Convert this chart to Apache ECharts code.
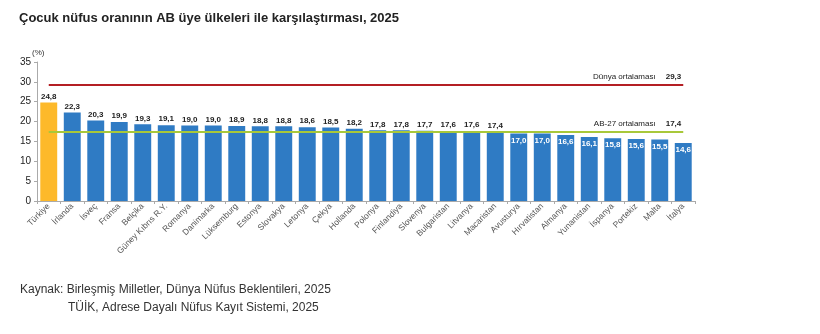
<!DOCTYPE html>
<html>
<head>
<meta charset="utf-8">
<script src="https://cdn.jsdelivr.net/npm/echarts@6/dist/echarts.min.js"></script>
<style>
html, body { margin: 0; padding: 0; background: #fff; }
#chart { width: 820px; height: 334px; }
</style>
</head>
<body>
<div id="chart"></div>
<script>
var countries = ['Türkiye', 'İrlanda', 'İsveç', 'Fransa', 'Belçika', 'Güney Kıbrıs R.Y.', 'Romanya', 'Danimarka',
    'Lüksemburg', 'Estonya', 'Slovakya', 'Letonya', 'Çekya', 'Hollanda', 'Polonya', 'Finlandiya', 'Slovenya',
    'Bulgaristan', 'Litvanya', 'Macaristan', 'Avusturya', 'Hırvatistan', 'Almanya', 'Yunanistan', 'İspanya',
    'Portekiz', 'Malta', 'İtalya'];
var childShare = [24.8, 22.3, 20.3, 19.9, 19.3, 19.1, 19.0, 19.0, 18.9, 18.8, 18.8, 18.6, 18.5, 18.2, 17.8, 17.8,
    17.7, 17.6, 17.6, 17.4, 17.0, 17.0, 16.6, 16.1, 15.8, 15.6, 15.5, 14.6];
var worldAvg = 29.3;
var euAvg = 17.4;

function fmt(v) { return v.toFixed(1).replace('.', ','); }

var myChart = echarts.init(document.getElementById('chart'));

var barData = childShare.map(function (v, i) {
    var below = v < euAvg;
    return {
        value: v,
        itemStyle: { color: i === 0 ? '#FDB92A' : '#2F7BC4' },
        label: below ? { position: 'insideTop', color: '#fff', distance: 3 } : { position: 'top', color: '#222', distance: 2 }
    };
});

function avgLine(val, name, color) {
    return [
        { coord: [countries[0], val], lineStyle: { color: color, width: 2, type: 'solid' },
          label: { show: true, position: 'insideEndTop', distance: 2,
                   formatter: '{n|' + name + '}   {v|' + fmt(val) + '}',
                   rich: { n: { fontSize: 8, color: '#222', fontFamily: 'Liberation Sans' },
                           v: { fontSize: 8, color: '#222', fontWeight: 'bold', fontFamily: 'Liberation Sans' } } } },
        { coord: [countries[countries.length - 1], val] }
    ];
}

option = {
    backgroundColor: '#fff',
    animation: false,
    textStyle: { fontFamily: 'Liberation Sans' },
    title: [{
        text: 'Çocuk nüfus oranının AB üye ülkeleri ile karşılaştırması, 2025',
        left: 14, top: 7,
        textStyle: { fontSize: 13, fontWeight: 'bold', color: '#222', fontFamily: 'Liberation Sans' }
    }, {
        text: '(%)',
        left: 27, top: 44,
        textStyle: { fontSize: 8, fontWeight: 'normal', color: '#333' }
    }, {
        text: 'Kaynak: Birleşmiş Milletler, Dünya Nüfus Beklentileri, 2025',
        left: 15, top: 279,
        textStyle: { fontSize: 12, fontWeight: 'normal', color: '#333' }
    }, {
        text: 'TÜİK, Adrese Dayalı Nüfus Kayıt Sistemi, 2025',
        left: 63, top: 297,
        textStyle: { fontSize: 12, fontWeight: 'normal', color: '#333' }
    }],
    grid: { left: 37, right: 125, top: 62, bottom: 133 },
    xAxis: {
        type: 'category',
        data: countries,
        axisLine: { lineStyle: { color: '#aaa' } },
        axisTick: { show: true, length: 3, lineStyle: { color: '#aaa' } },
        axisLabel: { rotate: 45, fontSize: 8.5, color: '#555', margin: 4, interval: 0 }
    },
    yAxis: {
        type: 'value',
        min: 0, max: 35, interval: 5,
        splitLine: { show: false },
        axisLine: { show: true, lineStyle: { color: '#aaa' } },
        axisTick: { show: true, length: 3, lineStyle: { color: '#aaa' } },
        axisLabel: { fontSize: 10, color: '#222', margin: 6 }
    },
    series: [{
        type: 'bar',
        data: barData,
        barCategoryGap: '28%',
        label: {
            show: true,
            fontSize: 8,
            fontWeight: 'bold',
            formatter: function (p) { return fmt(p.value); }
        },
        markLine: {
            symbol: 'none',
            silent: true,
            z: 5,
            data: [
                avgLine(worldAvg, 'Dünya ortalaması', '#B41F24'),
                avgLine(euAvg, 'AB-27 ortalaması', '#A8C83A')
            ]
        }
    }]
};

myChart.setOption(option);
</script>
</body>
</html>
